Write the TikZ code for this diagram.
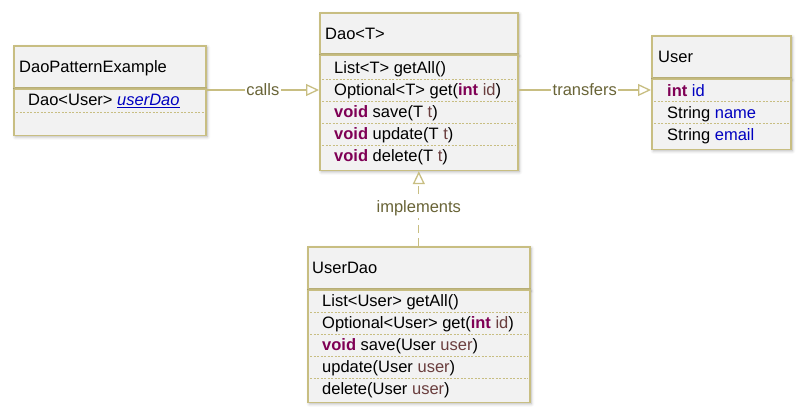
\documentclass[tikz,border=0pt]{standalone}
\usepackage{fontspec}
\setmainfont{Liberation Sans}
\usetikzlibrary{arrows.meta,shadows.blur,calc}
\definecolor{bord}{RGB}{200,190,130}
\definecolor{boxfill}{RGB}{242,242,242}
\definecolor{lblc}{RGB}{105,100,55}
\definecolor{kwc}{RGB}{127,0,85}
\definecolor{parc}{RGB}{106,62,62}
\definecolor{fldc}{RGB}{0,0,192}
\newcommand\kwd[1]{\textcolor{kwc}{\textbf{#1}}}
\newcommand\prm[1]{\textcolor{parc}{#1}}
\newcommand\fld[1]{\textcolor{fldc}{#1}}
\begin{document}
\begin{tikzpicture}[x=1pt,y=-1pt,
  font=\fontsize{16.5}{18}\selectfont,
  box/.style={draw=bord, fill=boxfill, line width=1.6pt, anchor=north west, inner sep=0pt,
    blur shadow={shadow xshift=1.5pt, shadow yshift=-1.5pt, shadow blur radius=3pt, shadow opacity=30}},
  htxt/.style={anchor=base west, inner sep=0pt},
  row/.style={anchor=base west, inner sep=0pt},
  dotline/.style={draw=bord, line width=0.8pt, dash pattern=on 2pt off 1.5pt},
  elbl/.style={fill=white, text=lblc, inner sep=1.5pt},
  assoc/.style={draw=bord, line width=1.3pt, -{Triangle[open, length=13pt, width=12pt]}},
  impl/.style={draw=bord, line width=1.3pt, dash pattern=on 8pt off 5pt, -{Triangle[open, length=13pt, width=12pt]}}
]
\useasboundingbox (0,0) rectangle (805,414);

% DaoPatternExample
\node[box, minimum width=192pt, minimum height=42pt] (peH) at (13,45) {};
\node[htxt] (peT) at ($(peH.west)+(6,6)$) {DaoPatternExample};
\node[box, minimum width=192pt, minimum height=46pt] (peB) at (peH.south west) {};
\node[row] (pe1) at ($(peB.north west)+(15,17)$) {Dao<User> \fld{\textit{\underline{userDao}}}};
\draw[dotline] ($(peB.north west)+(3,24)$) -- ($(peB.north east)+(-3,24)$);

% Dao<T>
\node[box, minimum width=198pt, minimum height=41pt] (daoH) at (319,12) {};
\node[htxt] (daoT) at ($(daoH.west)+(6,6)$) {Dao<T>};
\node[box, minimum width=198pt, minimum height=115pt] (daoB) at (daoH.south west) {};
\node[row] (d1) at ($(daoB.north west)+(15,19)$) {List<T> getAll()};
\node[row] (d2) at ($(daoB.north west)+(15,41)$) {Optional<T> get(\kwd{int} \prm{id})};
\node[row] (d3) at ($(daoB.north west)+(15,63)$) {\kwd{void} save(T \prm{t})};
\node[row] (d4) at ($(daoB.north west)+(15,85)$) {\kwd{void} update(T \prm{t})};
\node[row] (d5) at ($(daoB.north west)+(15,107)$) {\kwd{void} delete(T \prm{t})};
\foreach \yy in {25,47,69,91}
  \draw[dotline] ($(daoB.north west)+(3,\yy)$) -- ($(daoB.north east)+(-3,\yy)$);

% User
\node[box, minimum width=139pt, minimum height=42pt] (usH) at (651,35) {};
\node[htxt] (usT) at ($(usH.west)+(7,6)$) {User};
\node[box, minimum width=139pt, minimum height=70pt] (usB) at (usH.south west) {};
\node[row] (u1) at ($(usB.north west)+(16,18)$) {\kwd{int} \fld{id}};
\node[row] (u2) at ($(usB.north west)+(16,40)$) {String \fld{name}};
\node[row] (u3) at ($(usB.north west)+(16,62)$) {String \fld{email}};
\foreach \yy in {23,45}
  \draw[dotline] ($(usB.north west)+(3,\yy)$) -- ($(usB.north east)+(-3,\yy)$);

% UserDao
\node[box, minimum width=222pt, minimum height=42pt] (udH) at (307,246) {};
\node[htxt] (udT) at ($(udH.west)+(5,6)$) {UserDao};
\node[box, minimum width=222pt, minimum height=112pt] (udB) at (udH.south west) {};
\node[row] (ud1) at ($(udB.north west)+(15,17)$) {List<User> getAll()};
\node[row] (ud2) at ($(udB.north west)+(15,39)$) {Optional<User> get(\kwd{int} \prm{id})};
\node[row] (ud3) at ($(udB.north west)+(15,61)$) {\kwd{void} save(User \prm{user})};
\node[row] (ud4) at ($(udB.north west)+(15,83)$) {update(User \prm{user})};
\node[row] (ud5) at ($(udB.north west)+(15,105)$) {delete(User \prm{user})};
\foreach \yy in {23,45,67,89}
  \draw[dotline] ($(udB.north west)+(3,\yy)$) -- ($(udB.north east)+(-3,\yy)$);

% connectors
\coordinate (lineY) at (0,90);
\draw[assoc] (peB.east |- lineY) -- node[elbl] (callsL) {calls} (daoB.west |- lineY);
\draw[assoc] (daoB.east |- lineY) -- node[elbl] (transL) {transfers} (usB.west |- lineY);
\draw[impl] (udH.north) -- node[elbl] (implL) {implements} (daoB.south);
\end{tikzpicture}
\end{document}
